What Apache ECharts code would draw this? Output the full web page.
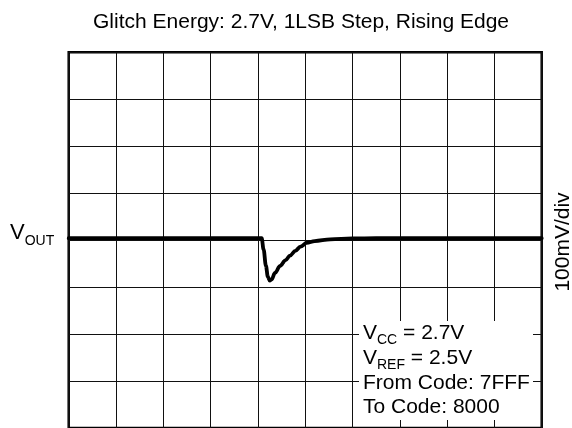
<!DOCTYPE html>
<html>
<head>
<meta charset="utf-8">
<script src="https://cdn.jsdelivr.net/npm/echarts@6/dist/echarts.min.js"></script>
<style>
  html, body { margin: 0; padding: 0; background: #fff; }
  #chart { width: 572px; height: 428px; }
</style>
</head>
<body>
<div id="chart"></div>
<script>
// Horizontal position in screen divisions (10 divisions across)
const timeDiv = [0, 1, 2, 3, 4, 4.08, 4.12, 4.17, 4.21, 4.25, 4.29, 4.36, 4.47, 4.58, 4.68, 4.79, 4.90, 5.03, 5.20, 5.53, 6.0, 6.5, 7, 8, 9, 10];
// VOUT deviation in mV (100 mV per division)
const voutMv = [4, 4, 4, 4, 4, 4, -20, -55, -78, -86, -84, -70, -55, -43, -33, -23, -14, -6, -2, 1.5, 3.5, 4, 4, 4, 4, 4];

const FONT = '"Liberation Sans", Arial, sans-serif';

const traceData = timeDiv.map((t, i) => [t, voutMv[i]]);

const chart = echarts.init(document.getElementById('chart'), null, { renderer: 'canvas' });

chart.setOption({
  animation: false,
  backgroundColor: '#fff',
  grid: {
    show: true,
    left: 68.7,
    right: 30.3,
    top: 52.2,
    height: 377.6,
    borderColor: '#000',
    borderWidth: 2.5,
    backgroundColor: 'transparent'
  },
  xAxis: {
    type: 'value',
    min: 0,
    max: 10,
    interval: 1,
    axisLine: { show: false },
    axisTick: { show: false },
    axisLabel: { show: false },
    splitLine: { show: true, lineStyle: { color: '#111', width: 1 } }
  },
  yAxis: {
    type: 'value',
    min: -400,
    max: 400,
    interval: 100,
    axisLine: { show: false },
    axisTick: { show: false },
    axisLabel: { show: false },
    splitLine: { show: true, lineStyle: { color: '#111', width: 1 } }
  },
  series: [{
    type: 'line',
    data: traceData,
    showSymbol: false,
    smooth: 0.35,
    smoothMonotone: 'x',
    lineStyle: { color: '#000', width: 3.8, join: 'round', cap: 'round' },
    z: 5
  }],
  graphic: [
    {
      type: 'text',
      z: 100,
      style: {
        text: 'Glitch Energy: 2.7V, 1LSB Step, Rising Edge',
        x: 301, y: 22,
        align: 'center', verticalAlign: 'middle',
        font: '21px ' + FONT, fill: '#000'
      }
    },
    {
      type: 'text',
      z: 100,
      style: {
        text: '{v|V}{s|OUT}',
        x: 10, y: 233,
        align: 'left', verticalAlign: 'middle',
        rich: {
          v: { fontSize: 22, fontFamily: FONT, color: '#000', lineHeight: 24 },
          s: { fontSize: 14, fontFamily: FONT, color: '#000', lineHeight: 24, padding: [16, 0, 0, 0] }
        }
      }
    },
    {
      type: 'text',
      z: 100,
      rotation: Math.PI / 2,
      x: 563, y: 242,
      style: {
        text: '100mV/div',
        x: 0, y: 0,
        align: 'center', verticalAlign: 'middle',
        font: '21px ' + FONT, fill: '#000'
      }
    },
    {
      type: 'rect',
      z: 90,
      shape: { x: 359, y: 321, width: 174, height: 99 },
      style: { fill: '#fff' }
    },
    {
      type: 'text',
      z: 100,
      style: {
        text: '{v|V}{s|CC}{v| = 2.7V}\n{v|V}{s|REF}{v| = 2.5V}\n{v|From Code: 7FFF}\n{v|To Code: 8000}',
        x: 363, y: 321,
        align: 'left', verticalAlign: 'top',
        rich: {
          v: { fontSize: 21, fontFamily: FONT, color: '#000', lineHeight: 24.7 },
          s: { fontSize: 14, fontFamily: FONT, color: '#000', lineHeight: 24.7, padding: [14, 0, 0, 0] }
        }
      }
    }
  ]
});
</script>
</body>
</html>
